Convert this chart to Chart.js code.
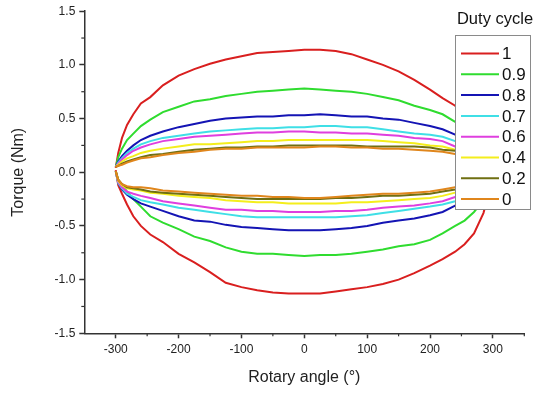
<!DOCTYPE html>
<html>
<head>
<meta charset="utf-8">
<script src="https://cdn.jsdelivr.net/npm/chart.js@4/dist/chart.umd.min.js"></script>
<style>
  html, body { margin: 0; padding: 0; background: #fff; }
  #wrap { width: 545px; height: 394px; }
</style>
</head>
<body>
<div id="wrap"><canvas id="torqueChart"></canvas></div>
<script>
// rotary angle (deg) along each loop: upper branch left->right, lower branch back
const angles = [
    -300, -296, -290, -282, -272, -260, -245, -225, -200, -175, -150, -125, -100, -75, -50, -25,
    0, 25, 50, 75, 100, 125, 150, 175, 200, 220, 240, 260, 280, 295, 300,
    295, 285, 270, 255, 240, 220, 200, 175, 150, 125, 100, 75, 50, 25,
    0, -25, -50, -75, -100, -125, -150, -175, -200, -225, -245, -260, -272, -282, -290, -296, -300
];

const dutyLabels = ["1", "0.9", "0.8", "0.7", "0.6", "0.4", "0.2", "0"];
const lineColors = ["#d91f1f", "#2fdc2f", "#1414b4", "#3fdfe6", "#df3fdf", "#f4ee1c", "#6f6f12", "#e0861c"];

// torque (Nm), same order as angles
const torque100 = [
    0.04, 0.18, 0.32, 0.44, 0.54, 0.64, 0.70, 0.81, 0.90, 0.96, 1.01, 1.05, 1.08, 1.11, 1.12, 1.13,
    1.14, 1.14, 1.13, 1.10, 1.05, 1.00, 0.94, 0.86, 0.77, 0.69, 0.62, 0.50, 0.32, 0.12, -0.02,
    -0.16, -0.38, -0.57, -0.67, -0.74, -0.81, -0.87, -0.94, -1.00, -1.04, -1.07, -1.09, -1.11, -1.13,
    -1.13, -1.13, -1.12, -1.10, -1.07, -1.03, -0.93, -0.84, -0.76, -0.65, -0.58, -0.50, -0.41, -0.30, -0.20, -0.12, 0.02
];
const torque90 = [
    0.05, 0.14, 0.22, 0.30, 0.36, 0.43, 0.49, 0.56, 0.61, 0.66, 0.68, 0.71, 0.73, 0.75, 0.76, 0.77,
    0.78, 0.77, 0.76, 0.75, 0.73, 0.70, 0.67, 0.62, 0.58, 0.54, 0.47, 0.38, 0.25, 0.10, 0.00,
    -0.12, -0.26, -0.37, -0.45, -0.50, -0.57, -0.63, -0.67, -0.69, -0.72, -0.74, -0.76, -0.77, -0.77,
    -0.78, -0.77, -0.76, -0.76, -0.74, -0.70, -0.64, -0.60, -0.53, -0.47, -0.41, -0.32, -0.25, -0.18, -0.12, -0.07, 0.01
];
const torque80 = [
    0.05, 0.10, 0.15, 0.20, 0.25, 0.30, 0.34, 0.38, 0.42, 0.45, 0.48, 0.50, 0.51, 0.52, 0.52, 0.53,
    0.53, 0.54, 0.53, 0.52, 0.52, 0.50, 0.49, 0.46, 0.43, 0.40, 0.35, 0.28, 0.18, 0.08, 0.00,
    -0.08, -0.15, -0.22, -0.27, -0.31, -0.37, -0.40, -0.43, -0.45, -0.47, -0.50, -0.52, -0.53, -0.54,
    -0.54, -0.54, -0.53, -0.52, -0.51, -0.49, -0.46, -0.45, -0.41, -0.36, -0.32, -0.29, -0.25, -0.21, -0.16, -0.10, 0.01
];
const torque70 = [
    0.05, 0.09, 0.13, 0.18, 0.22, 0.26, 0.29, 0.32, 0.34, 0.36, 0.38, 0.39, 0.40, 0.41, 0.41, 0.42,
    0.42, 0.43, 0.43, 0.42, 0.42, 0.40, 0.38, 0.36, 0.35, 0.33, 0.29, 0.23, 0.15, 0.07, 0.00,
    -0.07, -0.14, -0.20, -0.24, -0.27, -0.30, -0.32, -0.34, -0.36, -0.38, -0.40, -0.41, -0.42, -0.42,
    -0.42, -0.42, -0.42, -0.42, -0.41, -0.39, -0.37, -0.35, -0.33, -0.30, -0.28, -0.26, -0.23, -0.20, -0.15, -0.10, 0.01
];
const torque60 = [
    0.05, 0.08, 0.12, 0.16, 0.20, 0.23, 0.26, 0.29, 0.31, 0.33, 0.34, 0.35, 0.36, 0.37, 0.37, 0.38,
    0.38, 0.37, 0.37, 0.36, 0.36, 0.35, 0.34, 0.32, 0.31, 0.29, 0.24, 0.19, 0.12, 0.05, 0.00,
    -0.06, -0.12, -0.17, -0.21, -0.23, -0.27, -0.29, -0.31, -0.32, -0.33, -0.35, -0.36, -0.36, -0.37,
    -0.37, -0.37, -0.36, -0.36, -0.35, -0.35, -0.33, -0.31, -0.29, -0.27, -0.24, -0.22, -0.20, -0.18, -0.14, -0.09, 0.01
];
const torque40 = [
    0.05, 0.07, 0.10, 0.13, 0.15, 0.18, 0.20, 0.22, 0.24, 0.26, 0.26, 0.27, 0.28, 0.29, 0.29, 0.30,
    0.30, 0.30, 0.30, 0.30, 0.30, 0.29, 0.28, 0.27, 0.25, 0.24, 0.21, 0.17, 0.11, 0.05, 0.00,
    -0.05, -0.10, -0.14, -0.17, -0.19, -0.22, -0.24, -0.25, -0.26, -0.27, -0.28, -0.28, -0.29, -0.29,
    -0.29, -0.29, -0.28, -0.28, -0.27, -0.26, -0.24, -0.23, -0.22, -0.20, -0.19, -0.17, -0.16, -0.15, -0.12, -0.08, 0.01
];
const torque20 = [
    0.05, 0.06, 0.08, 0.10, 0.12, 0.14, 0.16, 0.17, 0.19, 0.21, 0.22, 0.23, 0.23, 0.24, 0.24, 0.25,
    0.25, 0.25, 0.25, 0.25, 0.24, 0.24, 0.24, 0.24, 0.23, 0.21, 0.20, 0.16, 0.10, 0.04, 0.00,
    -0.05, -0.09, -0.12, -0.14, -0.16, -0.18, -0.20, -0.21, -0.22, -0.22, -0.23, -0.24, -0.24, -0.25,
    -0.25, -0.25, -0.25, -0.25, -0.24, -0.23, -0.22, -0.21, -0.20, -0.19, -0.18, -0.16, -0.15, -0.14, -0.11, -0.07, 0.01
];
const torque0 = [
    0.05, 0.06, 0.07, 0.09, 0.11, 0.13, 0.14, 0.16, 0.18, 0.19, 0.21, 0.22, 0.22, 0.23, 0.23, 0.23,
    0.23, 0.24, 0.24, 0.23, 0.23, 0.22, 0.22, 0.21, 0.20, 0.19, 0.17, 0.14, 0.09, 0.04, 0.00,
    -0.04, -0.08, -0.11, -0.13, -0.14, -0.16, -0.18, -0.19, -0.20, -0.20, -0.21, -0.22, -0.23, -0.24,
    -0.24, -0.23, -0.23, -0.22, -0.22, -0.21, -0.20, -0.19, -0.18, -0.17, -0.15, -0.14, -0.14, -0.13, -0.11, -0.07, 0.01
];

const xTicks = [-300, -200, -100, 0, 100, 200, 300];
const xMinorTicks = [-250, -150, -50, 50, 150, 250, 350];
const yTicks = [-1.5, -1.0, -0.5, 0.0, 0.5, 1.0, 1.5];
const yMinorTicks = [-1.25, -0.75, -0.25, 0.25, 0.75, 1.25];

const torqueSeries = [torque100, torque90, torque80, torque70, torque60, torque40, torque20, torque0];

const FONT = "'Liberation Sans', Arial, sans-serif";
const AXIS = "#333";

// minor ticks + the boxed legend that sits over the plot
const overlayPlugin = {
    id: "overlay",
    afterDraw(chart) {
        const ctx = chart.ctx;
        const xs = chart.scales.x;
        const ys = chart.scales.y;
        const area = chart.chartArea;

        ctx.save();
        ctx.strokeStyle = AXIS;
        ctx.lineWidth = 1.2;
        xMinorTicks.forEach(v => {
            const px = xs.getPixelForValue(v);
            ctx.beginPath();
            ctx.moveTo(px, area.bottom);
            ctx.lineTo(px, area.bottom + 3);
            ctx.stroke();
        });
        yMinorTicks.forEach(v => {
            const py = ys.getPixelForValue(v);
            ctx.beginPath();
            ctx.moveTo(area.left - 3, py);
            ctx.lineTo(area.left, py);
            ctx.stroke();
        });

        // legend
        const box = { x: 455.5, y: 35.5, w: 75, h: 174 };
        ctx.fillStyle = "#fff";
        ctx.fillRect(box.x, box.y, box.w, box.h);
        ctx.strokeStyle = "#8a8a8a";
        ctx.lineWidth = 1;
        ctx.strokeRect(box.x, box.y, box.w, box.h);

        ctx.fillStyle = "#111";
        ctx.font = "16.5px " + FONT;
        ctx.textAlign = "center";
        ctx.textBaseline = "middle";
        ctx.fillText("Duty cycle", 495, 19);

        ctx.font = "17px " + FONT;
        ctx.textAlign = "left";
        chart.data.datasets.forEach((ds, i) => {
            const y = 53.5 + i * 20.8;
            ctx.strokeStyle = ds.borderColor;
            ctx.lineWidth = 2;
            ctx.beginPath();
            ctx.moveTo(461, y);
            ctx.lineTo(499, y);
            ctx.stroke();
            ctx.fillStyle = "#111";
            ctx.fillText(ds.label, 502, y + 1);
        });
        ctx.restore();
    }
};

const datasets = dutyLabels.map((label, i) => ({
    label,
    data: angles.map((a, j) => ({ x: a, y: torqueSeries[i][j] })),
    borderColor: lineColors[i],
    backgroundColor: lineColors[i],
    borderWidth: 2,
    showLine: true,
    pointRadius: 0,
    tension: 0,
    order: dutyLabels.length - i
}));

new Chart(document.getElementById("torqueChart"), {
    type: "scatter",
    data: { datasets },
    options: {
        responsive: true,
        maintainAspectRatio: false,
        animation: false,
        events: [],
        layout: { padding: { left: 0, right: 20.7, top: 6.3, bottom: 0 } },
        plugins: {
            legend: { display: false },
            tooltip: { enabled: false }
        },
        scales: {
            x: {
                type: "linear",
                min: -350,
                max: 350,
                afterBuildTicks: s => { s.ticks = xTicks.map(v => ({ value: v })); },
                afterFit: s => { s.height = 60.7; },
                border: { color: AXIS, width: 1.5 },
                grid: { display: true, drawOnChartArea: false, drawTicks: true, tickLength: 5, tickColor: AXIS, tickWidth: 1.5 },
                ticks: {
                    padding: 4,
                    color: "#222",
                    font: { family: FONT, size: 12 },
                    maxRotation: 0,
                    autoSkip: false,
                    callback: v => String(v)
                },
                title: {
                    display: true,
                    text: "Rotary angle (°)",
                    color: "#222",
                    font: { family: FONT, size: 16 },
                    padding: { top: 0, bottom: 6.4 }
                }
            },
            y: {
                type: "linear",
                min: -1.5,
                max: 1.5,
                afterBuildTicks: s => { s.ticks = yTicks.map(v => ({ value: v })); },
                afterFit: s => { s.width = 84.3; },
                border: { color: AXIS, width: 1.5 },
                grid: { display: true, drawOnChartArea: false, drawTicks: true, tickLength: 5, tickColor: AXIS, tickWidth: 1.5 },
                ticks: {
                    padding: 4,
                    color: "#222",
                    font: { family: FONT, size: 12 },
                    autoSkip: false,
                    callback: v => Number(v).toFixed(1)
                },
                title: {
                    display: true,
                    text: "Torque (Nm)",
                    color: "#222",
                    font: { family: FONT, size: 16 },
                    padding: { top: 9.4, bottom: 0 }
                }
            }
        }
    },
    plugins: [overlayPlugin]
});
</script>
</body>
</html>
